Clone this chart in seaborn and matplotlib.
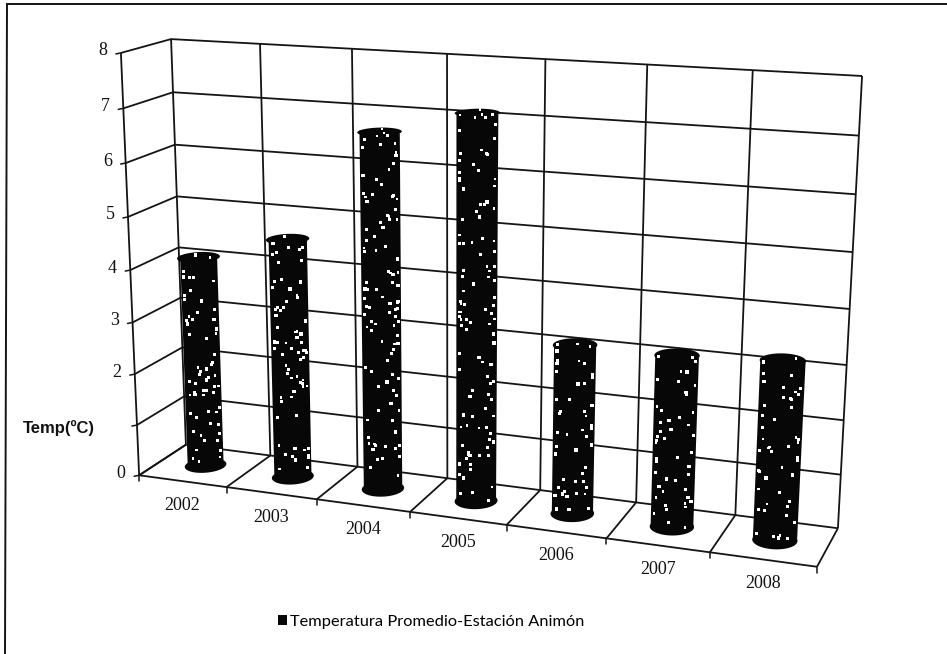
import numpy as np
import matplotlib
matplotlib.use("Agg")
import matplotlib.pyplot as plt
from matplotlib.patches import Patch, Polygon
from matplotlib.transforms import Affine2D, Transform
import seaborn as sns

# Annual mean temperature per station year
years = ["2002", "2003", "2004", "2005", "2006", "2007", "2008"]
temps = [4.1, 4.6, 6.7, 7.15, 3.15, 3.15, 3.25]
value_ticks = [0, 2, 3, 4, 5, 6, 7, 8]
legend_label = "Temperatura Promedio-Estación Animón"
axis_label = "Temp(ºC)"

W, H = 947, 654
INK = "#141414"
BAR = "#070707"
C_MIN, C_MAX = -0.5, 6.5
V_MAX = 8

# Camera calibration: box corners (category, depth, value) and where they land, in pixels
box_corners = np.array([
    [C_MIN, 0, 0], [C_MIN, 0, V_MAX], [C_MIN, 1, V_MAX], [C_MIN, 1, 0],
    [C_MAX, 1, V_MAX], [C_MAX, 1, 0], [C_MAX, 0, 0],
], float)
box_pixels = np.array([
    [140, 475], [120, 53], [172, 39], [185, 445],
    [862, 76], [838, 528], [817, 567],
], float)


def fit_camera(world, image):
    rows, rhs = [], []
    for (x, y, z), (u, v) in zip(world, image):
        rows.append([x, y, z, 1, 0, 0, 0, 0, -u * x, -u * y, -u * z])
        rows.append([0, 0, 0, 0, x, y, z, 1, -v * x, -v * y, -v * z])
        rhs += [u, v]
    p = np.linalg.lstsq(np.array(rows), np.array(rhs), rcond=None)[0]
    return np.append(p, 1.0).reshape(3, 4)


CAMERA = fit_camera(box_corners, box_pixels)


def project(c, d, v):
    c, d, v = np.broadcast_arrays(np.asarray(c, float), np.asarray(d, float), np.asarray(v, float))
    pts = np.stack([c, d, v, np.ones_like(c)], axis=-1) @ CAMERA.T
    return pts[..., 0] / pts[..., 2], pts[..., 1] / pts[..., 2]


class DepthPlane(Transform):
    """Maps (category, value) on a plane of fixed depth to display pixels."""
    input_dims = output_dims = 2
    is_separable = False
    has_inverse = False

    def __init__(self, plane_depth):
        super().__init__()
        self.plane_depth = plane_depth

    def transform_non_affine(self, values):
        values = np.asarray(values, float)
        u, v = project(values[:, 0], self.plane_depth, values[:, 1])
        return np.column_stack([u, H - v])


sns.set_theme(style="white")
fig = plt.figure(figsize=(W / 100, H / 100), dpi=100, facecolor="white")
ax = fig.add_axes([0, 0, 1, 1])
pixels = Affine2D().scale(1, -1).translate(0, H)


def seg(c, d, v, lw=1.3, **kw):
    u, w = project(c, d, v)
    ax.plot(u, w, color=INK, lw=lw, transform=pixels, zorder=1, solid_capstyle="butt", clip_on=False, **kw)


# Column bodies sit mid-depth on the floor
mid = DepthPlane(0.5)
sns.barplot(x=years, y=temps, ax=ax, color=BAR, saturation=1, width=0.42, linewidth=0, zorder=2)
for patch in ax.patches:
    patch.set_transform(mid)
    patch.set_facecolor(BAR)
    patch.set_clip_on(False)

# Elliptical caps closing each column at top and bottom
theta = np.linspace(0, 2 * np.pi, 60)
for i, t in enumerate(temps):
    for level in (0, t):
        u, w = project(i + 0.21 * np.cos(theta), 0.5 + 0.23 * np.sin(theta), level)
        ax.add_patch(Polygon(np.column_stack([u, w]), closed=True, fc=BAR, ec="none",
                             transform=pixels, zorder=2, clip_on=False))

# Speckled fill texture over the columns: quadratic Weyl sequences, denser toward
# the column edges where the curved surface foreshortens
for i, t in enumerate(temps):
    n = int(t * 15)
    k = np.arange(1, n + 1) + 37 * i
    spread = (k * k * 0.7548777) % 1
    sx = i + 0.18 * np.sin(np.pi * (spread - 0.5))
    sy = t * 1.02 * ((k * k * 0.4142136 + k * 0.5698403) % 1)
    sizes = 3.0 + 3.0 * ((k * 0.3819660) % 1)
    sns.scatterplot(x=sx, y=sy, ax=ax, marker="s", s=sizes, color="white", linewidth=0,
                    transform=mid, zorder=3, clip_on=False, legend=False)

# Back wall and side wall gridlines
for v in range(V_MAX + 1):
    seg([C_MIN, C_MIN, C_MAX], [0, 1, 1], [v, v, v])
    u, w = project(C_MIN, 0, v)
    ax.plot([u - 5, u], [w + 1, w], color=INK, lw=1.1, transform=pixels, clip_on=False)

for c in np.arange(C_MIN, C_MAX + 1):
    seg([c, c], [1, 1], [0, V_MAX])           # wall vertical
    seg([c, c], [0, 1], [0, 0])               # floor line
    u, w = project(c, 0, 0)
    ax.plot([u, u], [w, w + 6], color=INK, lw=1.1, transform=pixels, clip_on=False)

seg([C_MIN, C_MIN], [0, 0], [0, V_MAX])
seg([C_MIN, C_MAX], [0, 0], [0, 0])

# Tick labels
serif = dict(family="Liberation Serif", fontsize=13, color="#111111", transform=pixels,
             ha="center", va="center", clip_on=False)
for v in value_ticks:
    u, w = project(C_MIN, 0, v)
    ax.text(u - 18, w - 2, str(v), **serif)
for i, year in enumerate(years):
    u, w = project(i, 0, 0)
    ax.text(u, w + 24, year, **serif)

ax.text(23, 428, axis_label, family="Liberation Sans", fontweight="bold", fontsize=12,
        color="#111111", transform=pixels, ha="left", va="center", clip_on=False)

ax.legend(handles=[Patch(facecolor=BAR, edgecolor="none", label=legend_label)],
          loc="center", bbox_to_anchor=(431 / W, 1 - 622 / H), frameon=False,
          prop={"family": "Lato", "size": 11.8}, labelcolor="#000000",
          handlelength=0.55, handleheight=0.55, handletextpad=0.2, borderpad=0, borderaxespad=0)

# Partial outer frame: top and left edges only
ax.plot([7, W], [4, 4], color=INK, lw=1.4, transform=pixels, clip_on=False)
ax.plot([7, 5], [4, H], color=INK, lw=1.4, transform=pixels, clip_on=False)

ax.set_xlim(-1, 7)
ax.set_ylim(0, 9)
ax.set_axis_off()
fig.savefig("out.png", dpi=100, facecolor="white")
